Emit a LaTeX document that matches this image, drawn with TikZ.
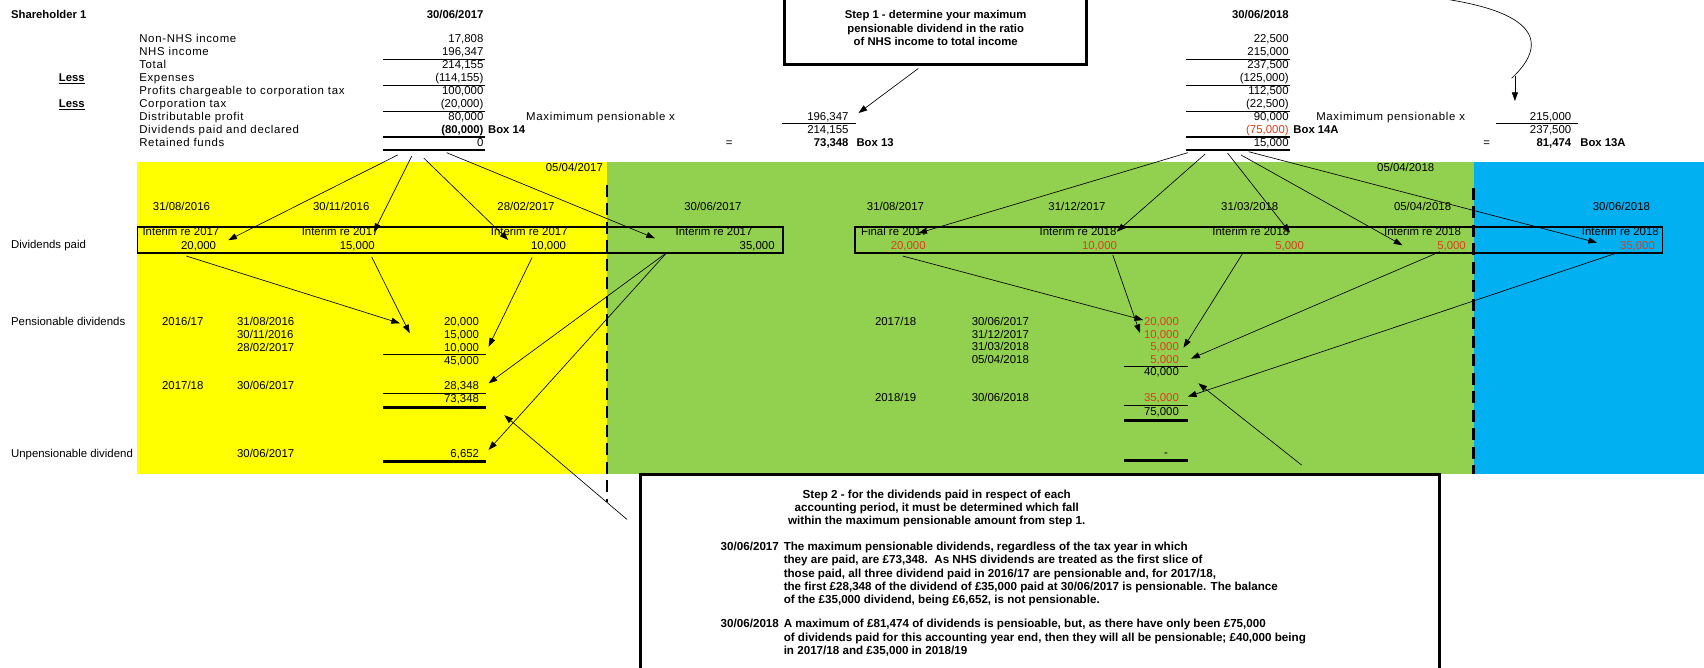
\documentclass[tikz,border=0pt]{standalone}
\usepackage{fontspec}
\setmainfont{Liberation Sans}
\newfontfamily\sheetwide[LetterSpace=6]{Liberation Sans}
\usetikzlibrary{positioning,arrows.meta}
\definecolor{sheetyellow}{HTML}{FFFF00}
\definecolor{sheetgreen}{HTML}{92D050}
\definecolor{sheetblue}{HTML}{00B0F0}
\definecolor{divred}{HTML}{D8401E}

\begin{document}
\begin{tikzpicture}[x=1pt,y=-1pt,
    txt/.style={font=\fontsize{10.5}{12}\selectfont,inner sep=0pt},
    lbl/.style={txt,anchor=mid west},
    hlbl/.style={lbl,font=\sheetwide\fontsize{10.5}{12}\selectfont},
    num/.style={txt,anchor=mid east},
    rednum/.style={num,text=divred},
    cell/.style={txt,anchor=mid},
    hd/.style={font=\bfseries\fontsize{10.4}{12}\selectfont,inner sep=0pt},
    rule/.style={line width=1.1pt},
    heavyrule/.style={line width=3pt},
    arr/.style={-{Triangle[length=8pt,width=5.5pt]},line width=0.6pt},
    divider/.style={line width=2.2pt,dash pattern=on 11pt off 6pt},
    paidbox/.style={draw,line width=1.4pt,inner sep=0pt,anchor=north west,minimum height=24pt},
    stepbox/.style={draw,line width=2.6pt,inner sep=0pt,align=center},
    steptxt/.style={font=\bfseries\fontsize{10.7}{12.3}\selectfont,inner sep=0pt,align=left}]
  \fill[white] (0,0) rectangle (1568,614);
  \useasboundingbox (0,0) rectangle (1568,614);

  % accounts for the two year ends
  \node[hd,anchor=mid west] (holder) at (10,14) {Shareholder 1};
  \node[hd,anchor=mid east] (ye17) at (445,14) {30/06/2017};
  \node[hd,anchor=mid east] (ye18) at (1186,14) {30/06/2018};
  \node[hd,anchor=mid west] (less1) at (54,72.5) {\underline{Less}};
  \node[hd,anchor=mid west] (less2) at (54,96.3) {\underline{Less}};
  \node[hlbl] (l0) at (128,36.8) {Non-NHS income};
  \node[hlbl] (l1) at (128,48.7) {NHS income};
  \node[hlbl] (l2) at (128,60.6) {Total};
  \node[hlbl] (l3) at (128,72.5) {Expenses};
  \node[hlbl] (l4) at (128,84.4) {Profits chargeable to corporation tax};
  \node[hlbl] (l5) at (128,96.3) {Corporation tax};
  \node[hlbl] (l6) at (128,108.2) {Distributable profit};
  \node[hlbl] (l7) at (128,120.1) {Dividends paid and declared};
  \node[hlbl] (l8) at (128,132) {Retained funds};

  \node[num] (a0) at (445,36.8) {17,808};
  \node[num] (a1) at (445,48.7) {196,347};
  \node[num] (a2) at (445,60.6) {214,155};
  \node[num] (a3) at (445,72.5) {(114,155)};
  \node[num] (a4) at (445,84.4) {100,000};
  \node[num] (a5) at (445,96.3) {(20,000)};
  \node[num] (a6) at (445,108.2) {80,000};
  \node[hd,anchor=mid east] (a7) at (445,120.1) {(80,000)};
  \node[num] (a8) at (445,132) {0};
  \node[hd,base right=4pt of a7] (bx14) {Box 14};
  \draw[rule] (352,54.7) -- (446,54.7); \draw[rule] (352,78.5) -- (446,78.5);
  \draw[rule] (352,102.3) -- (446,102.3); \draw[rule] (352,126.1) -- (446,126.1);
  \draw[rule] (352,138) -- (446,138);

  \node[num] (b0) at (1186,36.8) {22,500};
  \node[num] (b1) at (1186,48.7) {215,000};
  \node[num] (b2) at (1186,60.6) {237,500};
  \node[num] (b3) at (1186,72.5) {(125,000)};
  \node[num] (b4) at (1186,84.4) {112,500};
  \node[num] (b5) at (1186,96.3) {(22,500)};
  \node[num] (b6) at (1186,108.2) {90,000};
  \node[rednum] (b7) at (1186,120.1) {(75,000)};
  \node[num] (b8) at (1186,132) {15,000};
  \node[hd,base right=4pt of b7] (bx14a) {Box 14A};
  \draw[rule] (1091,54.7) -- (1187,54.7); \draw[rule] (1091,78.5) -- (1187,78.5);
  \draw[rule] (1091,102.3) -- (1187,102.3); \draw[rule] (1091,126.1) -- (1187,126.1);
  \draw[rule] (1091,138) -- (1187,138);

  % maximum pensionable fractions
  \node[hlbl] (mp17) at (484,108.2) {Maximimum pensionable x};
  \node[num] (f17n) at (781,108.2) {196,347};
  \draw[rule] (720,113.8) -- (788,113.8);
  \node[num] (f17d) at (781,120.1) {214,155};
  \node[cell] (eq17) at (671,132) {=};
  \node[hd,anchor=mid east] (m17) at (781,132) {73,348};
  \node[hd,base right=7pt of m17] (bx13) {Box 13};

  \node[hlbl] (mp18) at (1211,108.2) {Maximimum pensionable x};
  \node[num] (f18n) at (1446,108.2) {215,000};
  \draw[rule] (1377,113.8) -- (1452,113.8);
  \node[num] (f18d) at (1446,120.1) {237,500};
  \node[cell] (eq18) at (1368,132) {=};
  \node[hd,anchor=mid east] (m18) at (1446,132) {81,474};
  \node[hd,base right=8pt of m18] (bx13a) {Box 13A};

  \node[stepbox,minimum width=278pt,minimum height=66pt,font=\bfseries\fontsize{10.4}{12.3}\selectfont] (step1) at (861,26) {Step 1 - determine your maximum\\pensionable dividend in the ratio\\of NHS income to total income};
  \coordinate (s1foot) at (845,63); \coordinate (s1tip) at (790,104);
  \draw[arr] (s1foot) -- (s1tip);
  \coordinate (cvtop) at (1322,-2); \coordinate (cvend) at (1391,72);
  \draw[line width=0.6pt] (cvtop) .. controls (1425,12) and (1420,45) .. (cvend);
  \coordinate (cvfoot) at (1394,70); \coordinate (cvtip) at (1394,93);
  \draw[arr] (cvfoot) -- (cvtip);

  % tax year bands
  \fill[sheetyellow] (126,149.5) rectangle (558.6,436);
  \fill[sheetgreen] (558.6,149.5) rectangle (1356,436);
  \fill[sheetblue] (1356,149.5) rectangle (1568,436);
  \draw[divider] (558.6,170) -- (558.6,462);
  \draw[divider] (1356,173) -- (1356,436);
  \node[txt,anchor=mid east] (ty17) at (555,155) {05/04/2017};
  \node[txt,anchor=mid east] (ty18) at (1320,155) {05/04/2018};

  \node[lbl] (rowpaid) at (10,226) {Dividends paid};
  \node[lbl] (rowpens) at (10,297) {Pensionable dividends};
  \node[lbl] (rowunp) at (10,418) {Unpensionable dividend};

  \node[paidbox,minimum width=594pt] (paid17) at (126,208) {};
  \node[paidbox,minimum width=743pt] (paid18) at (786,208) {};

  \node[cell] (dA) at (167,191) {31/08/2016};
  \node[cell] (dB) at (314,191) {30/11/2016};
  \node[cell] (dC) at (484,191) {28/02/2017};
  \node[cell] (dD) at (656,191) {30/06/2017};
  \node[cell] (dE) at (824,191) {31/08/2017};
  \node[cell] (dF) at (991,191) {31/12/2017};
  \node[cell] (dG) at (1150,191) {31/03/2018};
  \node[cell] (dH) at (1309,191) {05/04/2018};
  \node[cell] (dI) at (1492,191) {30/06/2018};

  \node[cell] (iA) at (166.5,214) {Interim re 2017}; \node[num] (vA) at (199,226.5) {20,000};
  \node[cell] (iB) at (313,214) {Interim re 2017}; \node[num] (vB) at (345,226.5) {15,000};
  \node[cell] (iC) at (487,214) {Interim re 2017}; \node[num] (vC) at (521,226.5) {10,000};
  \node[cell] (iD) at (657,214) {Interim re 2017}; \node[num] (vD) at (713,226.5) {35,000};
  \node[cell] (iE) at (823,214) {Final re 2017}; \node[rednum] (vE) at (852,226.5) {20,000};
  \node[cell] (iF) at (992,214) {Interim re 2018}; \node[rednum] (vF) at (1028,226.5) {10,000};
  \node[cell] (iG) at (1151,214) {Interim re 2018}; \node[rednum] (vG) at (1200,226.5) {5,000};
  \node[cell] (iH) at (1309,214) {Interim re 2018}; \node[rednum] (vH) at (1349,226.5) {5,000};
  \node[cell] (iI) at (1491,214) {Interim re 2018}; \node[rednum] (vI) at (1523,226.5) {35,000};

  % pensionable split, year end 30/06/2017
  \node[lbl] (y1617) at (149,297) {2016/17};
  \node[lbl] (p1) at (218,297) {31/08/2016}; \node[num] (q1) at (441,297) {20,000};
  \node[lbl] (p2) at (218,309) {30/11/2016}; \node[num] (q2) at (441,309) {15,000};
  \node[lbl] (p3) at (218,320.6) {28/02/2017}; \node[num] (q3) at (441,320.6) {10,000};
  \draw[rule] (352,326.3) -- (447,326.3);
  \node[num] (q4) at (441,332.6) {45,000};
  \node[lbl] (y1718a) at (149,356) {2017/18};
  \node[lbl] (p5) at (218,356) {30/06/2017}; \node[num] (q5) at (441,356) {28,348};
  \draw[rule] (352,362) -- (447,362);
  \node[num] (q6) at (441,367.7) {73,348};
  \draw[heavyrule] (352,374.8) -- (447,374.8);
  \node[lbl] (p7) at (218,418) {30/06/2017}; \node[num] (q7) at (441,418) {6,652};
  \draw[heavyrule] (352,424.6) -- (447,424.6);

  % pensionable split, year end 30/06/2018
  \node[lbl] (y1718b) at (805,297) {2017/18};
  \node[lbl] (s1) at (894,297) {30/06/2017}; \node[rednum] (t1) at (1085,297) {20,000};
  \node[lbl] (s2) at (894,308.5) {31/12/2017}; \node[rednum] (t2) at (1085,308.5) {10,000};
  \node[lbl] (s3) at (894,320) {31/03/2018}; \node[rednum] (t3) at (1085,320) {5,000};
  \node[lbl] (s4) at (894,332) {05/04/2018}; \node[rednum] (t4) at (1085,332) {5,000};
  \draw[rule] (1034,337.5) -- (1093,337.5);
  \node[num] (t5) at (1085,343) {40,000};
  \node[lbl] (y1819) at (805,367) {2018/19};
  \node[lbl] (s6) at (894,367) {30/06/2018}; \node[rednum] (t6) at (1085,367) {35,000};
  \draw[rule] (1034,373) -- (1093,373);
  \node[num] (t7) at (1085,380) {75,000};
  \draw[heavyrule] (1034,387) -- (1093,387);
  \node[num] (t8) at (1075,417) {-};
  \draw[heavyrule] (1034,424) -- (1093,424);

  % step 2 explanation
  \node[stepbox,anchor=north west,minimum width=735pt,minimum height=190pt] (step2) at (588,435.5) {};
  \node[steptxt,align=center] (s2head) at (862,467.8) {Step 2 - for the dividends paid in respect of each\\accounting period, it must be determined which fall\\within the maximum pensionable amount from step 1.};
  \node[steptxt,anchor=north west] (s2d17) at (663,498.6) {30/06/2017};
  \node[steptxt,anchor=north west] (s2p17) at (721,498.6) {The maximum pensionable dividends, regardless of the tax year in which\\they are paid, are £73,348.\ \ As NHS dividends are treated as the first slice of\\those paid, all three dividend paid in 2016/17 are pensionable and, for 2017/18,\\the first £28,348 of the dividend of £35,000 paid at 30/06/2017 is pensionable. The balance\\of the £35,000 dividend, being £6,652, is not pensionable.};
  \node[steptxt,anchor=north west] (s2d18) at (663,569.8) {30/06/2018};
  \node[steptxt,anchor=north west] (s2p18) at (721,569.8) {A maximum of £81,474 of dividends is pensioable, but, as there have only been £75,000\\of dividends paid for this accounting year end, then they will all be pensionable; £40,000 being\\in 2017/18 and £35,000 in 2018/19};

  % dividends declared 30/06/2017 to payments
  \coordinate (ret17a) at (366,142.6); \coordinate (tipA) at (210,221);
  \coordinate (ret17b) at (379,143.5); \coordinate (tipB) at (344,213.5);
  \coordinate (ret17c) at (390,145.5); \coordinate (tipC) at (467.7,220.9);
  \coordinate (ret17d) at (411,140.5); \coordinate (tipD) at (602.7,219.3);
  \draw[arr] (ret17a) -- (tipA); \draw[arr] (ret17b) -- (tipB);
  \draw[arr] (ret17c) -- (tipC); \draw[arr] (ret17d) -- (tipD);
  \coordinate (outA) at (171.5,235.6); \coordinate (inA) at (368,297.5);
  \coordinate (outB) at (342,236.5); \coordinate (inB) at (377,306.7);
  \coordinate (outC) at (489.6,237); \coordinate (inC) at (449.6,319);
  \coordinate (outD) at (613.5,232.5); \coordinate (inD1) at (449.6,352.7); \coordinate (inD2) at (449.6,414);
  \draw[arr] (outA) -- (inA); \draw[arr] (outB) -- (inB); \draw[arr] (outC) -- (inC);
  \draw[arr] (outD) -- (inD1); \draw[arr] (outD) -- (inD2);
  \coordinate (s2foot17) at (577,478); \coordinate (tot17) at (464,382);
  \draw[arr] (s2foot17) -- (tot17);

  % dividends declared 30/06/2018 to payments
  \coordinate (ret18a) at (1093,140.5); \coordinate (tipE) at (845,214.6);
  \coordinate (ret18b) at (1109,141.7); \coordinate (tipF) at (1027.6,213.2);
  \coordinate (ret18c) at (1129.7,141); \coordinate (tipG) at (1187,214);
  \coordinate (ret18d) at (1142,142.6); \coordinate (tipH) at (1290.5,225.7);
  \coordinate (ret18e) at (1149,139.6); \coordinate (tipI) at (1469.6,223.3);
  \draw[arr] (ret18a) -- (tipE); \draw[arr] (ret18b) -- (tipF); \draw[arr] (ret18c) -- (tipG);
  \draw[arr] (ret18d) -- (tipH); \draw[arr] (ret18e) -- (tipI);
  \coordinate (outE) at (830.7,235.6); \coordinate (inE) at (1052,294.5);
  \coordinate (outF) at (1024,234.7); \coordinate (inF) at (1049,306.5);
  \coordinate (outG) at (1143.6,233); \coordinate (inG) at (1089,320);
  \coordinate (outH) at (1325,231.6); \coordinate (inH) at (1096,330);
  \coordinate (outI) at (1487,233); \coordinate (inI) at (1093,365);
  \draw[arr] (outE) -- (inE); \draw[arr] (outF) -- (inF); \draw[arr] (outG) -- (inG);
  \draw[arr] (outH) -- (inH); \draw[arr] (outI) -- (inI);
  \coordinate (s2foot18) at (1197.8,428); \coordinate (tot18) at (1102.7,352.7);
  \draw[arr] (s2foot18) -- (tot18);
\end{tikzpicture}
\end{document}
